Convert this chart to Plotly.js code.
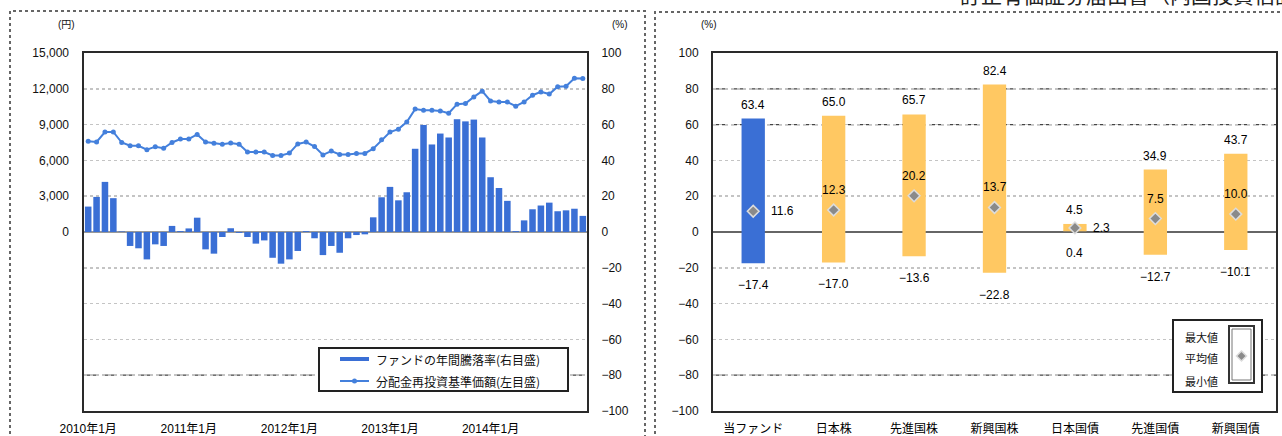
<!DOCTYPE html>
<html>
<head>
<meta charset="utf-8">
<script src="https://cdn.plot.ly/plotly-3.0.1.min.js"></script>
<style>html,body{margin:0;padding:0;background:#fff;}#chart{width:1282px;height:436px;}</style>
</head>
<body>
<div id="chart"></div>
<script>
// ---------- Data: left chart (monthly, 2010/01 - 2014/12) ----------
const startYear = 2010;
const monthCount = 60;
const months = [];
for (let i = 0; i < monthCount; i++) {
  const y = startYear + Math.floor(i / 12), m = (i % 12) + 1;
  months.push(y + '/' + (m < 10 ? '0' + m : m));
}
const xTickValues = ['2010/01', '2011/01', '2012/01', '2013/01', '2014/01'];
const xTickLabels = ['2010年1月', '2011年1月', '2012年1月', '2013年1月', '2014年1月'];

// ファンドの年間騰落率 (%) - right axis
const annualReturn = [
  14.2, 19.6, 28.0, 18.9, 0.3, -7.8, -9.1, -15.3, -6.9, -7.8, 3.4, 0.5,
  2.0, 8.0, -9.7, -12.1, -2.8, 2.1, -0.5, -2.8, -6.5, -4.7, -14.4, -17.7,
  -15.3, -10.6, 0.5, -3.5, -12.9, -7.8, -11.6, -3.5, -1.7, -1.3, 8.2, 19.4,
  25.2, 17.7, 22.2, 46.5, 59.8, 48.9, 55.0, 52.8, 63.0, 61.8, 62.8, 52.8,
  30.6, 24.6, 17.4, 0.5, 6.5, 12.7, 14.8, 16.4, 11.6, 12.1, 13.0, 9.0
];
// 分配金再投資基準価額 (円) - left axis
const navReinvested = [
  7600, 7550, 8380, 8380, 7500, 7230, 7230, 6900, 7150, 7020, 7500, 7790,
  7800, 8180, 7540, 7430, 7350, 7450, 7350, 6700, 6700, 6700, 6420, 6420,
  6610, 7380, 7540, 7160, 6460, 6780, 6500, 6500, 6580, 6580, 6980, 7720,
  8380, 8620, 9220, 10300, 10200, 10200, 10150, 9950, 10710, 10760, 11320, 11800,
  10980, 10900, 10900, 10540, 10900, 11460, 11740, 11560, 12180, 12220, 12880, 12870
];
const navTicks = [0, 3000, 6000, 9000, 12000, 15000];
const pctTicks = [-100, -80, -60, -40, -20, 0, 20, 40, 60, 80, 100];

// ---------- Data: right chart ----------
const assetClasses = ['当ファンド', '日本株', '先進国株', '新興国株', '日本国債', '先進国債', '新興国債'];
const maxValues = [63.4, 65.0, 65.7, 82.4, 4.5, 34.9, 43.7];
const avgValues = [11.6, 12.3, 20.2, 13.7, 2.3, 7.5, 10.0];
const minValues = [-17.4, -17.0, -13.6, -22.8, 0.4, -12.7, -10.1];
const avgLabelRight = ['当ファンド', '日本国債'];   // categories whose average label sits to the right
const legendLabels = ['最大値', '平均値', '最小値'];
const seriesNames = ['ファンドの年間騰落率(右目盛)', '分配金再投資基準価額(左目盛)'];

// ---------- helpers ----------
const W = 1282, H = 436;
const px = x => x / W;
const py = y => 1 - y / H;
const fmt = v => v.toFixed(1).replace('-', '\u2212');
const FONT = 'Liberation Sans, Arial, Noto Sans CJK JP, sans-serif';
const JP = 'Noto Sans CJK JP, sans-serif';
const TXT = '#111';

const blue = '#3a6fd5';
const lineBlue = '#4480dc';
const orange = '#ffc862';

const traces = [
  {
    type: 'bar', name: seriesNames[0], x: months, y: annualReturn,
    xaxis: 'x', yaxis: 'y', showlegend: false,
    marker: { color: blue, line: { width: 0 } },
    hoverinfo: 'skip'
  },
  {
    type: 'scatter', mode: 'lines+markers', name: seriesNames[1], x: months, y: navReinvested,
    xaxis: 'x', yaxis: 'y2', showlegend: false,
    line: { color: lineBlue, width: 2 },
    marker: { color: lineBlue, size: 5, symbol: 'circle' },
    hoverinfo: 'skip'
  },
  {
    type: 'bar', x: assetClasses, y: maxValues.map((v, i) => v - minValues[i]), base: minValues,
    xaxis: 'x2', yaxis: 'y3', width: 0.29, showlegend: false,
    marker: { color: assetClasses.map((c, i) => i === 0 ? blue : orange), line: { width: 0 } },
    hoverinfo: 'skip'
  },
  {
    type: 'scatter', mode: 'markers', x: assetClasses, y: avgValues,
    xaxis: 'x2', yaxis: 'y3', showlegend: false,
    marker: { symbol: 'diamond', size: 9, color: '#8a8a8a', line: { color: '#dcdcdc', width: 1.5 } },
    hoverinfo: 'skip'
  }
];

const annotations = [];
// title text clipped at top
annotations.push({ xref: 'paper', yref: 'paper', x: px(958), y: py(11), xanchor: 'left', yanchor: 'bottom',
  text: '訂正有価証券届出書（内国投資信託受益証券）', showarrow: false,
  font: { family: JP, size: 21, color: '#222' } });
// unit labels
annotations.push({ xref: 'paper', yref: 'paper', x: px(66), y: py(24), xanchor: 'center', yanchor: 'middle',
  text: '(円)', showarrow: false, font: { family: FONT, size: 10, color: TXT } });
annotations.push({ xref: 'paper', yref: 'paper', x: px(620), y: py(24), xanchor: 'center', yanchor: 'middle',
  text: '(%)', showarrow: false, font: { family: FONT, size: 10, color: TXT } });
annotations.push({ xref: 'paper', yref: 'paper', x: px(709), y: py(24), xanchor: 'center', yanchor: 'middle',
  text: '(%)', showarrow: false, font: { family: FONT, size: 10, color: TXT } });

// right chart value labels
const valFont = { family: FONT, size: 12, color: '#000' };
assetClasses.forEach((c, i) => {
  annotations.push({ xref: 'x2', yref: 'y3', x: c, y: maxValues[i], yshift: 14, text: fmt(maxValues[i]),
    showarrow: false, font: valFont });
  annotations.push({ xref: 'x2', yref: 'y3', x: c, y: minValues[i], yshift: -22, text: fmt(minValues[i]),
    showarrow: false, font: valFont });
  const right = avgLabelRight.includes(c);
  annotations.push({ xref: 'x2', yref: 'y3', x: c, y: avgValues[i],
    xshift: right ? 16 : 0, yshift: right ? 0 : 20, xanchor: right ? 'left' : 'center',
    text: fmt(avgValues[i]), showarrow: false, font: valFont });
});

// right legend texts
[337, 358, 381].forEach((yy, k) => {
  annotations.push({ xref: 'paper', yref: 'paper', x: px(1201), y: py(yy), xanchor: 'center', yanchor: 'middle',
    text: legendLabels[k], showarrow: false, font: { family: JP, size: 11, color: TXT } });
});
// left legend texts
[359, 381].forEach((yy, k) => {
  annotations.push({ xref: 'paper', yref: 'paper', x: px(374), y: py(yy), xanchor: 'left', yanchor: 'middle',
    text: seriesNames[k], showarrow: false, font: { family: JP, size: 12, color: TXT } });
});

const shapes = [];
// outer dotted panel borders
const dotted = { color: '#666', width: 2, dash: 'dot' };
shapes.push({ type: 'path', xref: 'paper', yref: 'paper',
  path: `M ${px(10)} ${py(440)} L ${px(10)} ${py(11)} L ${px(645)} ${py(11)} L ${px(645)} ${py(440)}`, line: dotted });
shapes.push({ type: 'path', xref: 'paper', yref: 'paper',
  path: `M ${px(655)} ${py(440)} L ${px(655)} ${py(12)} L ${px(1290)} ${py(12)}`, line: dotted });
// emphasised dashed grid lines
const darkDash = { color: '#444', width: 1.2, dash: '6px,3px' };
shapes.push({ type: 'line', xref: 'x domain', yref: 'y', x0: 0, x1: 1, y0: -80, y1: -80, line: darkDash, layer: 'below' });
[80, 60, -80].forEach(v => shapes.push({ type: 'line', xref: 'x2 domain', yref: 'y3', x0: 0, x1: 1, y0: v, y1: v,
  line: darkDash, layer: 'below' }));
// left legend box and samples
shapes.push({ type: 'rect', xref: 'paper', yref: 'paper', x0: px(319), x1: px(568), y0: py(391), y1: py(348),
  line: { color: '#222', width: 2 }, fillcolor: 'white', layer: 'above' });
shapes.push({ type: 'rect', xref: 'paper', yref: 'paper', x0: px(340), x1: px(369), y0: py(361), y1: py(357),
  line: { width: 0 }, fillcolor: blue, layer: 'above' });
shapes.push({ type: 'line', xref: 'paper', yref: 'paper', x0: px(340), x1: px(369), y0: py(381), y1: py(381),
  line: { color: lineBlue, width: 2 }, layer: 'above' });
shapes.push({ type: 'circle', xref: 'paper', yref: 'paper', x0: px(352), x1: px(357), y0: py(383.5), y1: py(378.5),
  line: { width: 0 }, fillcolor: lineBlue, layer: 'above' });
// right legend box
shapes.push({ type: 'rect', xref: 'paper', yref: 'paper', x0: px(1173), x1: px(1262), y0: py(392), y1: py(320),
  line: { color: '#222', width: 2 }, fillcolor: 'white', layer: 'above' });
shapes.push({ type: 'rect', xref: 'paper', yref: 'paper', x0: px(1229), x1: px(1254), y0: py(383), y1: py(326),
  line: { color: '#333', width: 2 }, fillcolor: 'white', layer: 'above' });
shapes.push({ type: 'rect', xref: 'paper', yref: 'paper', x0: px(1232), x1: px(1251), y0: py(380), y1: py(329),
  line: { color: '#777', width: 1 }, fillcolor: 'white', layer: 'above' });
shapes.push({ type: 'path', xref: 'paper', yref: 'paper',
  path: `M ${px(1241.5)} ${py(351)} L ${px(1246.5)} ${py(356)} L ${px(1241.5)} ${py(361)} L ${px(1236.5)} ${py(356)} Z`,
  fillcolor: '#8a8a8a', line: { color: '#dcdcdc', width: 1.5 }, layer: 'above' });

const tickFont = { family: FONT, size: 12, color: TXT };
const frame = { showline: true, mirror: true, linecolor: '#2a2a2a', linewidth: 2 };
const grid = { showgrid: true, gridcolor: '#c4c4c4', griddash: 'dot', gridwidth: 1.5 };

const layout = {
  width: W, height: H, margin: { l: 0, r: 0, t: 0, b: 0 },
  paper_bgcolor: 'white', plot_bgcolor: 'white',
  bargap: 0.22, showlegend: false,
  font: { family: FONT, color: TXT },
  xaxis: Object.assign({ domain: [px(84), px(587)], anchor: 'y', type: 'category', range: [-0.5, monthCount - 0.5],
    tickvals: xTickValues, ticktext: xTickLabels, showgrid: false, ticks: '', ticklabelstandoff: 6,
    tickfont: { family: FONT, size: 12, color: '#000' }, fixedrange: true }, frame),
  yaxis: Object.assign({ domain: [py(411), py(53)], anchor: 'x', side: 'right', range: [-100, 100],
    tickvals: pctTicks, ticks: '', ticklabelstandoff: 10, tickfont: tickFont,
    zeroline: true, zerolinecolor: '#999', zerolinewidth: 1.5, fixedrange: true }, frame, grid),
  yaxis2: { overlaying: 'y', side: 'left', anchor: 'x', range: [-15000, 15000], tickvals: navTicks,
    tickformat: ',d', showgrid: false, zeroline: false, showline: false, ticks: '', ticklabelstandoff: 14,
    tickfont: tickFont, fixedrange: true },
  xaxis2: Object.assign({ domain: [px(713), px(1276)], anchor: 'y3', type: 'category', range: [-0.5, assetClasses.length - 0.5],
    showgrid: false, ticks: '', ticklabelstandoff: 6, tickfont: { family: JP, size: 12, color: '#000' },
    fixedrange: true }, frame),
  yaxis3: Object.assign({ domain: [py(411), py(53)], anchor: 'x2', range: [-100, 100], tickvals: pctTicks,
    ticks: '', ticklabelstandoff: 10, tickfont: tickFont,
    zeroline: true, zerolinecolor: '#666', zerolinewidth: 2, fixedrange: true }, frame, grid),
  annotations: annotations, shapes: shapes
};

Plotly.newPlot('chart', traces, layout, { displayModeBar: false, staticPlot: true });
</script>
</body>
</html>
